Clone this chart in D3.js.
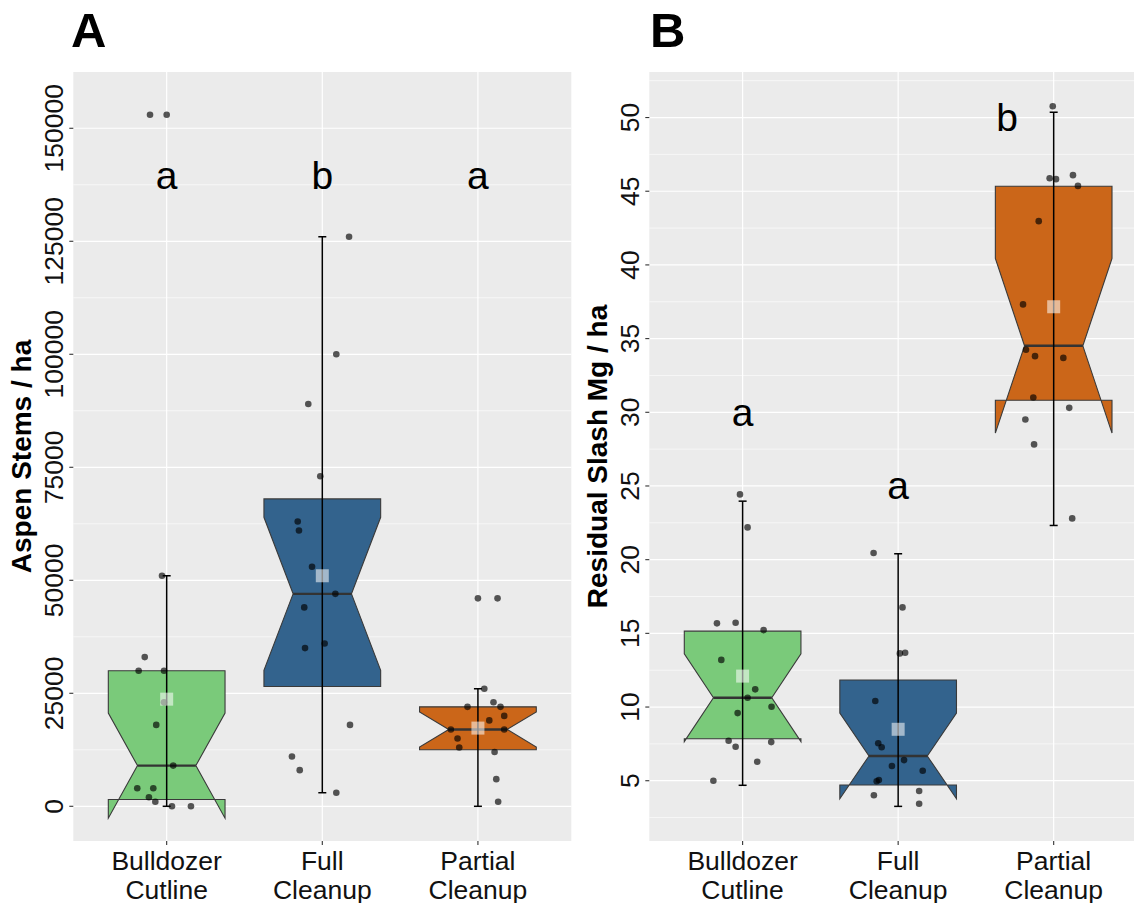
<!DOCTYPE html>
<html>
<head>
<meta charset="utf-8">
<script src="https://cdn.jsdelivr.net/npm/d3@7"></script>
<style>
  html, body { margin: 0; padding: 0; background: #fff; }
  svg { display: block; font-family: "Liberation Sans", Arial, Helvetica, sans-serif; }
</style>
</head>
<body>
<svg id="chart" width="1134" height="903"></svg>
<script>
// ---------------- DATA ----------------
const categories = ["Bulldozer Cutline", "Full Cleanup", "Partial Cleanup"];
const categoryLines = [["Bulldozer", "Cutline"], ["Full", "Cleanup"], ["Partial", "Cleanup"]];
const fillColors = ["#7ACA7A", "#33638D", "#CB6619"];
const nObs = 15;

// Panel A: Aspen Stems / ha
const aspenTicks = [0, 25000, 50000, 75000, 100000, 125000, 150000];
const aspenBulldozer = [153000, 51000, 33000, 30000, 30000, 23000, 18000, 9000, 4000, 4000, 2000, 1000, 0, 0];
const aspenBulldozerJitter = [-0.107, -0.030, -0.141, -0.180, -0.017, -0.017, -0.067, 0.042, -0.189, -0.086, -0.114, -0.073, 0.034, 0.156];
const aspenFull = [126000, 100000, 89000, 73000, 63000, 61000, 53000, 47000, 44000, 36000, 35000, 18000, 11000, 8000, 3000];
const aspenFullJitter = [0.172, 0.09, -0.09, -0.013, -0.158, -0.15, -0.066, 0.084, -0.116, 0.015, -0.111, 0.178, -0.195, -0.145, 0.09];
const aspenPartial = [46000, 26000, 23000, 22000, 22000, 20000, 19000, 17000, 17000, 15000, 13000, 12000, 6000, 1000];
const aspenPartialJitter = [0.126, 0.041, 0.1, -0.067, 0.145, 0.169, 0.073, -0.174, 0.169, -0.131, -0.12, 0.107, 0.118, 0.13];
const aspenOutliers = [[153000], [], [46000]];
const aspenQ1 = [1500, 26500, 12500];
const aspenMedian = [9000, 47000, 17000];
const aspenQ3 = [30000, 68000, 22000];
const aspenWhiskerLow = [0, 3000, 0];
const aspenWhiskerHigh = [51000, 126000, 26000];
const aspenMean = [23700, 51000, 17300];
const aspenLetters = ["a", "b", "a"];
const aspenLetterY = [139500, 139500, 139500];
const aspenLetterShift = [0, 0, 0];
const aspenDomain = [-7680, 162450];

// Panel B: Residual Slash Mg / ha
const slashTicks = [5, 10, 15, 20, 25, 30, 35, 40, 45, 50];
const slashBulldozer = [24.43, 22.19, 15.68, 15.72, 15.22, 13.2, 11.2, 10.63, 10.02, 9.59, 7.71, 7.62, 7.31, 6.29, 5.0];
const slashBulldozerJitter = [-0.017, 0.032, -0.165, -0.045, 0.135, -0.137, 0.081, 0.032, 0.186, -0.032, -0.09, 0.184, -0.045, 0.094, -0.188];
const slashFull = [20.45, 16.76, 13.64, 13.68, 10.41, 7.54, 7.27, 6.40, 6.0, 5.68, 5.05, 4.96, 4.01, 4.30, 3.44];
const slashFullJitter = [-0.158, 0.028, 0.011, 0.045, -0.147, -0.128, -0.106, 0.038, -0.040, 0.158, -0.124, -0.138, -0.156, 0.135, 0.135];
const slashPartial = [50.77, 45.88, 45.82, 46.09, 45.36, 42.97, 37.32, 34.24, 33.81, 33.69, 31.0, 30.30, 29.51, 27.82, 22.80];
const slashPartialJitter = [-0.006, -0.026, 0.015, 0.124, 0.156, -0.096, -0.197, -0.178, -0.12, 0.062, -0.131, 0.1, -0.182, -0.126, 0.119];
const slashOutliers = [[], [], []];
const slashQ1 = [7.85, 4.71, 30.82];
const slashMedian = [10.63, 6.68, 34.51];
const slashQ3 = [15.15, 11.83, 45.34];
const slashWhiskerLow = [4.69, 3.26, 22.32];
const slashWhiskerHigh = [23.97, 20.40, 50.36];
const slashMean = [12.10, 8.49, 37.16];
const slashLetters = ["a", "a", "b"];
const slashLetterY = [30, 25, 50];
const slashLetterShift = [0, 0, -0.3];
const slashDomain = [0.91, 53.09];

// ---------------- DRAW ----------------
const svg = d3.select("#chart");
svg.append("rect").attr("width", 1134).attr("height", 903).attr("fill", "#fff");

function drawPanel(cfg) {
  const g = svg.append("g");
  const x = d3.scalePoint().domain(categories).range([cfg.left, cfg.right]).padding(0.6);
  const step = x.step();
  const y = d3.scaleLinear().domain(cfg.domain).range([cfg.bottom, cfg.top]);

  // background
  g.append("rect").attr("x", cfg.left).attr("y", cfg.top)
    .attr("width", cfg.right - cfg.left).attr("height", cfg.bottom - cfg.top)
    .attr("fill", "#EBEBEB");

  // minor grid
  const tstep = cfg.ticks[1] - cfg.ticks[0];
  const minors = [];
  for (let i = -1; i < cfg.ticks.length; i++) {
    const v = cfg.ticks[0] + (i + 0.5) * tstep;
    if (v > cfg.domain[0] && v < cfg.domain[1]) minors.push(v);
  }
  g.selectAll(".minor").data(minors).enter().append("line")
    .attr("x1", cfg.left).attr("x2", cfg.right)
    .attr("y1", d => y(d)).attr("y2", d => y(d))
    .attr("stroke", "#fff").attr("stroke-width", 0.6);
  // major grid
  g.selectAll(".major").data(cfg.ticks).enter().append("line")
    .attr("x1", cfg.left).attr("x2", cfg.right)
    .attr("y1", d => y(d)).attr("y2", d => y(d))
    .attr("stroke", "#fff").attr("stroke-width", 1.2);
  g.selectAll(".xmajor").data(categories).enter().append("line")
    .attr("x1", d => x(d)).attr("x2", d => x(d))
    .attr("y1", cfg.top).attr("y2", cfg.bottom)
    .attr("stroke", "#fff").attr("stroke-width", 1.2);

  // boxes
  const bw = step * 0.75;
  categories.forEach((c, i) => {
    const cx = x(c);
    const xmin = cx - bw / 2, xmax = cx + bw / 2;
    const ind = bw * 0.25;
    const iqr = cfg.q3[i] - cfg.q1[i];
    const nu = cfg.median[i] + 1.58 * iqr / Math.sqrt(nObs);
    const nl = cfg.median[i] - 1.58 * iqr / Math.sqrt(nObs);
    const pts = [
      [xmin, y(cfg.q3[i])], [xmin, y(nu)], [xmin + ind, y(cfg.median[i])], [xmin, y(nl)], [xmin, y(cfg.q1[i])],
      [xmax, y(cfg.q1[i])], [xmax, y(nl)], [xmax - ind, y(cfg.median[i])], [xmax, y(nu)], [xmax, y(cfg.q3[i])]
    ];
    g.append("path").attr("d", "M" + pts.map(p => p.join(",")).join("L") + "Z")
      .attr("fill", fillColors[i]).attr("stroke", "#3a3a3a").attr("stroke-width", 1.1)
      .attr("stroke-linejoin", "miter");
    g.append("line").attr("x1", xmin + ind).attr("x2", xmax - ind)
      .attr("y1", y(cfg.median[i])).attr("y2", y(cfg.median[i]))
      .attr("stroke", "#333").attr("stroke-width", 2.4);
  });

  // error bars (whiskers)
  categories.forEach((c, i) => {
    const cx = x(c);
    g.append("line").attr("x1", cx).attr("x2", cx)
      .attr("y1", y(cfg.wlo[i])).attr("y2", y(cfg.whi[i]))
      .attr("stroke", "#000").attr("stroke-width", 1.5);
    [cfg.wlo[i], cfg.whi[i]].forEach(v => {
      g.append("line").attr("x1", cx - 4).attr("x2", cx + 4)
        .attr("y1", y(v)).attr("y2", y(v))
        .attr("stroke", "#000").attr("stroke-width", 1.5);
    });
  });

  // outliers
  categories.forEach((c, i) => {
    g.selectAll(null).data(cfg.outliers[i]).enter().append("circle")
      .attr("cx", x(c)).attr("cy", d => y(d)).attr("r", 3.3)
      .attr("fill", "#000").attr("fill-opacity", 0.65);
  });

  // jittered points
  categories.forEach((c, i) => {
    const vals = cfg.points[i], jit = cfg.jitter[i];
    g.selectAll(null).data(vals).enter().append("circle")
      .attr("cx", (d, k) => x(c) + jit[k] * step).attr("cy", d => y(d)).attr("r", 3.3)
      .attr("fill", "#000").attr("fill-opacity", 0.65);
  });

  // means
  categories.forEach((c, i) => {
    g.append("rect").attr("x", x(c) - 6.5).attr("y", y(cfg.mean[i]) - 6.5)
      .attr("width", 13).attr("height", 13)
      .attr("fill", "#fff").attr("fill-opacity", 0.55);
  });

  // letters
  categories.forEach((c, i) => {
    g.append("text").attr("x", x(c) + cfg.letterShift[i] * step)
      .attr("y", y(cfg.letterY[i]) + 13.5)
      .attr("text-anchor", "middle").attr("font-size", 39).attr("fill", "#000")
      .text(cfg.letters[i]);
  });

  // axes ticks
  g.selectAll(".yt").data(cfg.ticks).enter().append("line")
    .attr("x1", cfg.left - 4).attr("x2", cfg.left)
    .attr("y1", d => y(d)).attr("y2", d => y(d))
    .attr("stroke", "#333").attr("stroke-width", 1.1);
  g.selectAll(".ytl").data(cfg.ticks).enter().append("text")
    .attr("transform", d => `translate(${cfg.left - 10},${y(d)}) rotate(-90)`)
    .attr("text-anchor", "middle").attr("font-size", 26.5).attr("fill", "#111")
    .text(d => d3.format("d")(d));
  g.selectAll(".xt").data(categories).enter().append("line")
    .attr("x1", d => x(d)).attr("x2", d => x(d))
    .attr("y1", cfg.bottom).attr("y2", cfg.bottom + 4)
    .attr("stroke", "#333").attr("stroke-width", 1.1);
  categories.forEach((c, i) => {
    const t = g.append("text").attr("text-anchor", "middle").attr("font-size", 26.5).attr("fill", "#111");
    categoryLines[i].forEach((ln, k) => {
      t.append("tspan").attr("x", x(c)).attr("y", cfg.bottom + 29 + k * 28.5).text(ln);
    });
  });

  // y title
  g.append("text")
    .attr("transform", `translate(${cfg.titleX},${(cfg.top + cfg.bottom) / 2}) rotate(-90)`)
    .attr("text-anchor", "middle").attr("font-size", 28).attr("font-weight", "bold").attr("fill", "#000")
    .text(cfg.title);

  // panel tag
  g.append("text").attr("x", cfg.tagX).attr("y", 47)
    .attr("font-size", 49).attr("font-weight", "bold").attr("fill", "#000")
    .text(cfg.tag);
}

drawPanel({
  left: 73.3, right: 571.3, top: 72, bottom: 841,
  domain: aspenDomain, ticks: aspenTicks,
  q1: aspenQ1, median: aspenMedian, q3: aspenQ3, wlo: aspenWhiskerLow, whi: aspenWhiskerHigh, mean: aspenMean,
  points: [aspenBulldozer, aspenFull, aspenPartial],
  jitter: [aspenBulldozerJitter, aspenFullJitter, aspenPartialJitter],
  outliers: aspenOutliers,
  letters: aspenLetters, letterY: aspenLetterY, letterShift: aspenLetterShift,
  title: "Aspen Stems / ha", titleX: 31, tag: "A", tagX: 71
});

drawPanel({
  left: 649.3, right: 1147, top: 72, bottom: 841,
  domain: slashDomain, ticks: slashTicks,
  q1: slashQ1, median: slashMedian, q3: slashQ3, wlo: slashWhiskerLow, whi: slashWhiskerHigh, mean: slashMean,
  points: [slashBulldozer, slashFull, slashPartial],
  jitter: [slashBulldozerJitter, slashFullJitter, slashPartialJitter],
  outliers: slashOutliers,
  letters: slashLetters, letterY: slashLetterY, letterShift: slashLetterShift,
  title: "Residual Slash Mg / ha", titleX: 607, tag: "B", tagX: 650
});
</script>
</body>
</html>
